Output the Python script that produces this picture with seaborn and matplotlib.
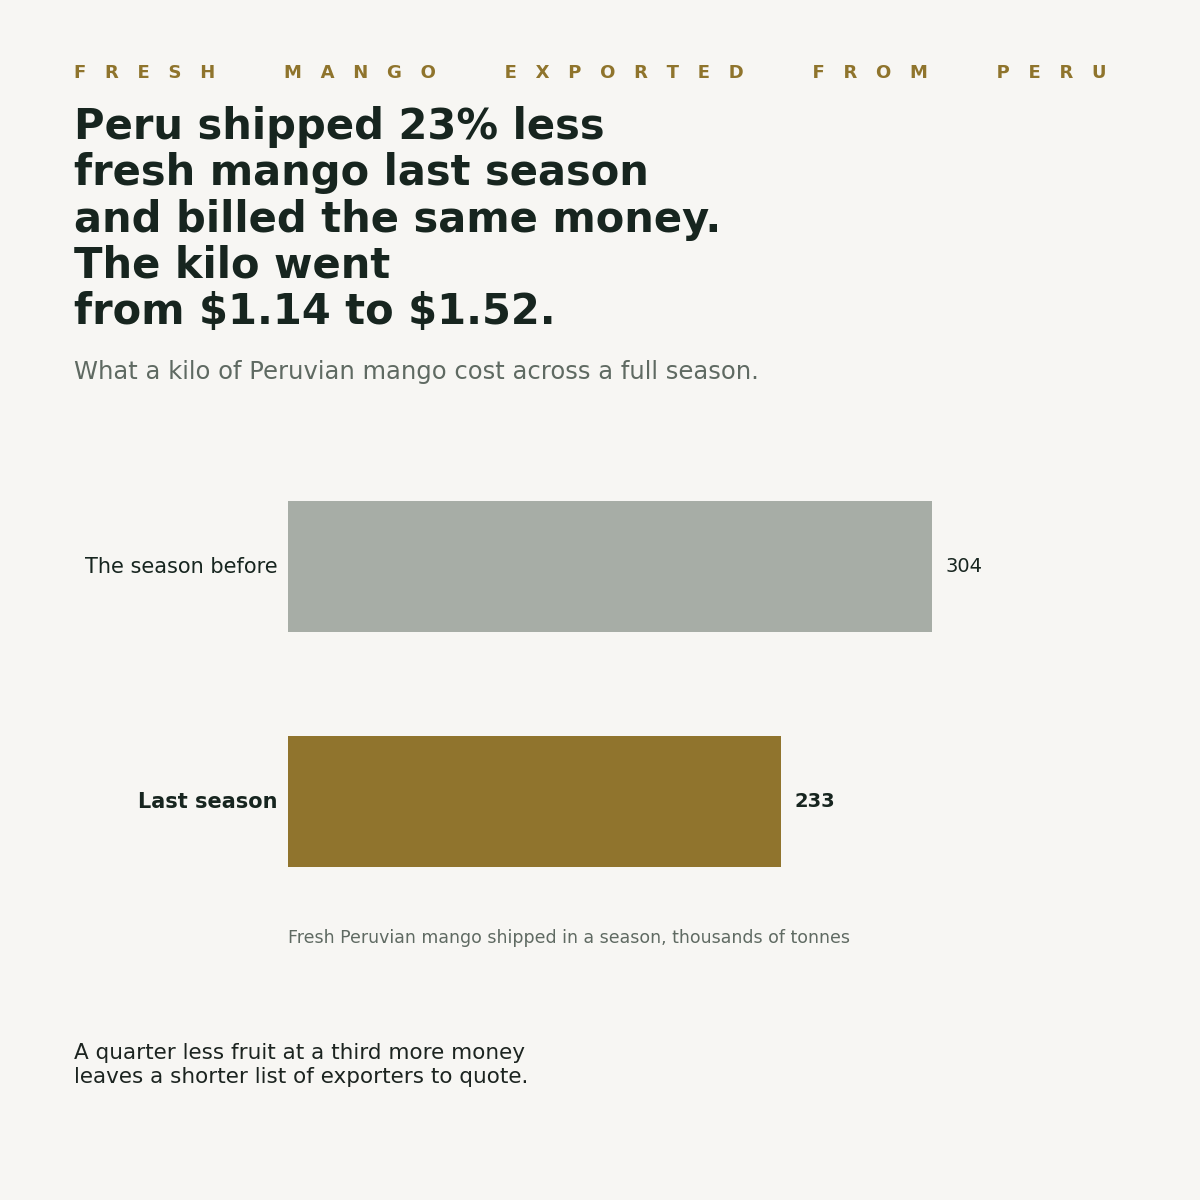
import matplotlib
matplotlib.use("Agg")
import matplotlib.pyplot as plt
import matplotlib.transforms as mtransforms
import pandas as pd
import seaborn as sns

# Data
seasons = ["The season before", "Last season"]
tonnes_k = [304, 233]
bar_colors = ["#a7ada6", "#90742d"]

kicker_words = ["FRESH", "MANGO", "EXPORTED", "FROM", "PERU"]
headline = ("Peru shipped 23% less\nfresh mango last season\n"
            "and billed the same money.\nThe kilo went\nfrom $1.14 to $1.52.")
subtitle = "What a kilo of Peruvian mango cost across a full season."
axis_note = "Fresh Peruvian mango shipped in a season, thousands of tonnes"
footer = ("A quarter less fruit at a third more money\n"
          "leaves a shorter list of exporters to quote.")

bg = "#f7f6f3"
ink = "#17251f"
muted = "#5f6a62"
gold = "#8f742c"

df = pd.DataFrame({"season": seasons, "value": tonnes_k})

sns.set_theme(style="white")
plt.rcParams["font.family"] = ["DejaVu Sans"]

fig = plt.figure(figsize=(12, 12), dpi=100, facecolor=bg)
ax = fig.add_axes([0.24, 0.234, 0.706, 0.3917])
ax.set_facecolor(bg)

sns.barplot(data=df, y="season", x="value", hue="season", palette=bar_colors,
            width=0.557, saturation=1, legend=False, linewidth=0, ax=ax)

ax.set_xlim(0, 400)
sns.despine(ax=ax, left=True, bottom=True)
ax.set_xticks([])
ax.set_xlabel("")
ax.set_ylabel("")
ax.tick_params(axis="y", length=0, pad=7.2)
shift = mtransforms.ScaledTranslation(0, 2 / 100, fig.dpi_scale_trans)
for lbl, s in zip(ax.get_yticklabels(), seasons):
    lbl.set_fontsize(15)
    lbl.set_color(ink)
    lbl.set_transform(lbl.get_transform() + shift)
    if s == "Last season":
        lbl.set_fontweight("bold")

# value labels
for i, v in enumerate(tonnes_k):
    bold = seasons[i] == "Last season"
    ax.annotate(str(v), xy=(v, i), xytext=(13 if bold else 14, 0),
                textcoords="offset pixels",
                va="center", ha="left", fontsize=14, color=ink,
                fontweight="bold" if bold else "normal")

# axis note under bars
fig.text(0.24, 1 - 938 / 1200, axis_note, fontsize=12.5, color=muted,
         va="center", ha="left")

# kicker
kicker = (" " * 11).join("   ".join(w) for w in kicker_words)
fig.text(74 / 1200, 1 - 73 / 1200, kicker, fontsize=13, fontweight="bold",
         color=gold, va="center", ha="left")

fig.text(74 / 1200, 1 - 106 / 1200, headline, fontsize=30, fontweight="bold",
         color=ink, va="top", ha="left", linespacing=1.13, parse_math=False)

fig.text(74 / 1200, 1 - 372 / 1200, subtitle, fontsize=17.5, color=muted,
         va="center", ha="left")

fig.text(74 / 1200, 1 - 1065 / 1200, footer, fontsize=15.5, color="#1c2420",
         va="center", ha="left", linespacing=1.3)

fig.savefig("out.png", dpi=100, facecolor=bg)
